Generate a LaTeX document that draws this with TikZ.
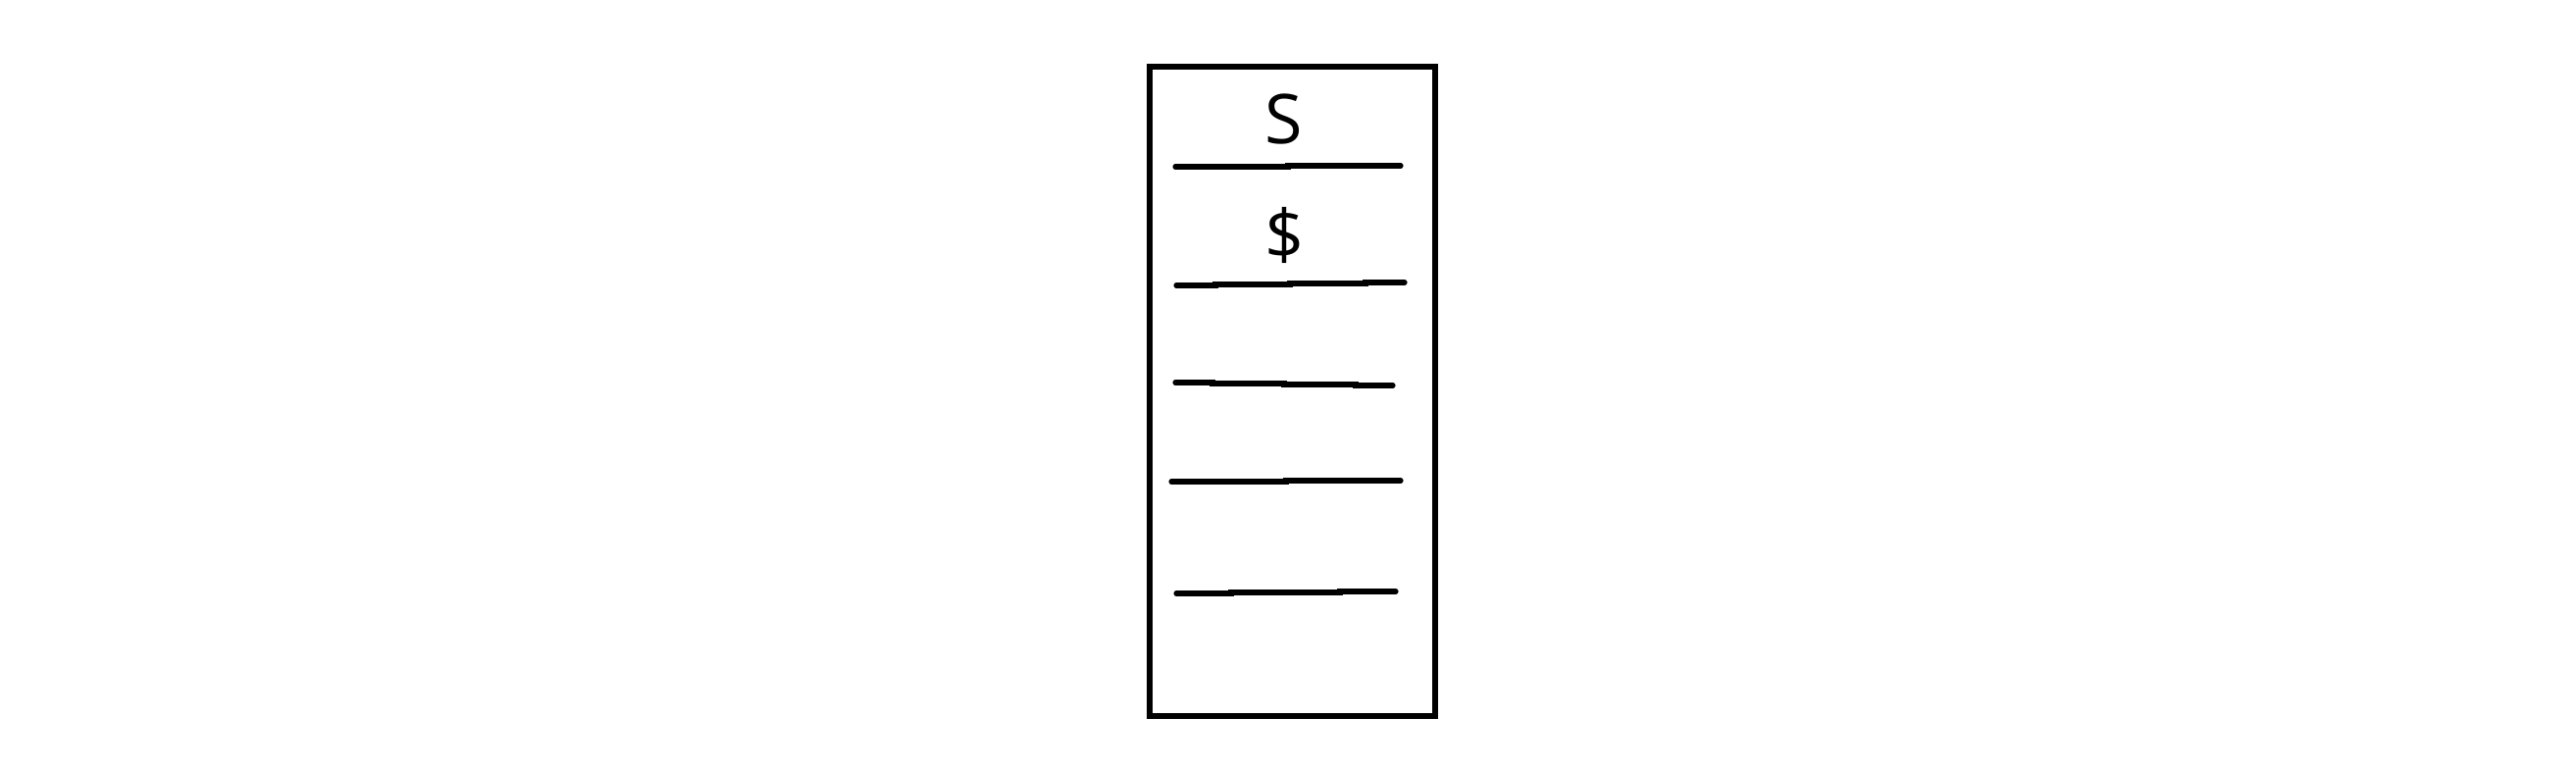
\documentclass[tikz,border=0pt]{standalone}
\usepackage{fontspec}
\setmainfont{Open Sans}
\usepackage{tikz}

\begin{document}
\begin{tikzpicture}[x=0.5pt, y=-0.5pt,
  stackbox/.style={draw, line width=3pt, minimum width=145.5pt, minimum height=331pt, inner sep=0pt},
  slotline/.style={line width=2.6pt, line cap=round},
  symbol/.style={inner sep=0pt, scale=2, transform shape}]
\useasboundingbox (0,0) rectangle (2626,783);
\node[stackbox] (stack) at (1317.5,399) {};
\node[symbol] (top) at (1309,121.5) {\fontsize{17.5pt}{21pt}\selectfont S};
\node[symbol] (dollar) at (1309,239.5) {\fontsize{17.5pt}{21pt}\selectfont \$};
% slot separators, drawn a little unevenly
\draw[slotline] (1198,170) -- (1313,170) -- (1313,169) -- (1428,169);
\draw[slotline] (1199,291) -- (1239,291) -- (1239,290) -- (1315,290) -- (1315,289) -- (1392,289) -- (1392,288) -- (1432,288);
\draw[slotline] (1198,390) -- (1236,390) -- (1236,391) -- (1309,391) -- (1309,392) -- (1382,392) -- (1382,393) -- (1420,393);
\draw[slotline] (1194,491) -- (1311,491) -- (1311,490) -- (1428,490);
\draw[slotline] (1199,605) -- (1255,605) -- (1255,604) -- (1366,604) -- (1366,603) -- (1423,603);
\end{tikzpicture}
\end{document}
